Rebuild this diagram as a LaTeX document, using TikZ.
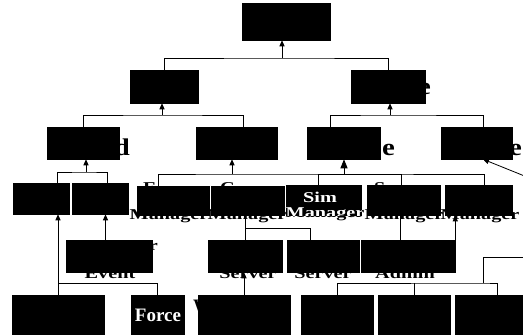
\documentclass[tikz,border=0pt]{standalone}
\usepackage{fontspec}
\setmainfont{Liberation Serif}
\usepackage{graphicx}
\usetikzlibrary{arrows.meta}
\newcommand{\sxt}[1]{\scalebox{1.35}[1]{#1}}
\newcommand{\sxb}[1]{\scalebox{1.2}[1]{#1}}
\newcommand{\mybox}[5]{\node[box, minimum width={(#4-#2)*1pt}, minimum height={(#5-#3)*1pt}] (#1) at ({(#2+#4)/2},{(#3+#5)/2}) {};}
\tikzset{
  box/.style={draw=black, fill=black, inner sep=0pt, line width=0.5pt},
  link/.style={line width=0.8pt, black},
  arr/.style={link, -{Triangle[length=6pt,width=5pt]}},
  bigarr/.style={link, -{Triangle[length=9pt,width=7pt]}},
  tfour/.style={inner sep=0pt, anchor=base, font=\bfseries\fontsize{15}{16}\selectfont},
  tthree/.style={inner sep=0pt, font=\bfseries\fontsize{24}{26}\selectfont},
  tsix/.style={inner sep=0pt, anchor=base, font=\bfseries\fontsize{19}{20}\selectfont},
}
\begin{document}
\begin{tikzpicture}[x=1pt, y=-1pt]
\useasboundingbox (0,0) rectangle (523,335);
% texts that stick out of boxes (drawn first, boxes cover part of them)
\node[tthree, anchor=base east] (tL2b) at (431,94) {\sxb{e}};
\node[tthree, anchor=base east] (tL3a) at (130,155) {\sxb{d}};
\node[tthree, anchor=base east] (tL3c) at (395,155) {\sxb{e}};
\node[tthree, anchor=base east] (tL3d) at (522,155) {\sxb{e}};
\node[tfour, anchor=base west] (tE3a) at (143,192) {\sxt{F}};
\node[tfour, anchor=base west] (tE4a) at (220,192) {\sxt{C}};
\node[tfour, anchor=base west] (tE6a) at (374,192) {\sxt{S}};
\node[tfour] (tE3b) at (169,219) {\sxt{Manager}};
\node[tfour] (tE4b) at (247,219) {\sxt{Manager}};
\node[tfour] (tE6b) at (404,219) {\sxt{Manager}};
\node[tfour] (tE7b) at (480,219) {\sxt{Manager}};
\node[tfour] (tE5a) at (320,202) {\sxt{Sim}};
\node[tfour] (tE5b) at (325,217) {\sxt{Manager}};
\node[tfour, anchor=base east] (tF1a) at (158,250) {\sxt{r}};
\node[tfour] (tF1b) at (110,278) {\sxt{Event}};
\node[tfour] (tF2) at (248,278) {\sxt{Server}};
\node[tfour] (tF3) at (323,278) {\sxt{Server}};
\node[tfour] (tF4) at (405,278) {\sxt{Admin}};
\node[tsix, anchor=base west] (tG3) at (193,312) {W};
% boxes
\mybox{root}{242}{3}{330}{40}
\mybox{L2a}{130}{70}{198}{103}
\mybox{L2b}{351}{70}{425}{103}
\mybox{L3a}{47}{127}{119}{159}
\mybox{L3b}{196}{127}{277}{159}
\mybox{L3c}{307}{127}{380}{159}
\mybox{L3d}{441}{127}{512}{159}
\mybox{E1}{13}{183}{69}{214}
\mybox{E2}{72}{183}{128}{214}
\mybox{E3}{137}{186}{209}{215}
\mybox{E4}{211}{186}{284}{215}
\mybox{E5}{286}{185}{361}{215}
\mybox{E6}{367}{185}{440}{215}
\mybox{E7}{445}{185}{512}{215}
\mybox{F1}{66}{240}{152}{272}
\mybox{F2}{208}{240}{282}{272}
\mybox{F3}{287}{240}{359}{272}
\mybox{F4}{361}{240}{455}{272}
\mybox{G1}{12}{295}{104}{337}
\mybox{G2}{131}{295}{184}{337}
\mybox{G3}{198}{295}{290}{337}
\mybox{G4}{301}{295}{373}{337}
\mybox{G5}{378}{295}{450}{337}
\mybox{G6}{455}{295}{526}{337}
% white texts inside boxes
\begin{scope}
\clip (E5.south west) rectangle (E5.north east);
\node[tfour, text=white] (wE5a) at (320,202) {\sxt{Sim}};
\node[tfour, text=white] (wE5b) at (325,217) {\sxt{Manager}};
\end{scope}
\node[tsix, text=white] (wG2) at (158,321) {Force};
% junctions
\coordinate (j0) at (282,58);
\coordinate (j1) at (162,115);
\coordinate (j2) at (390,115);
\coordinate (j3) at (86,172);
\coordinate (j4a) at (232,174);
\coordinate (j4b) at (344,174);
\coordinate (j5) at (58,283);
\coordinate (j6) at (245,228);
\coordinate (j7) at (483,283);
\coordinate (offr) at (527,177);
\coordinate (offr2) at (527,257);
% connectors
\draw[link] (L2a.north) |- (j0) -| (L2b.north);
\draw[arr] (j0) -- (j0 |- root.south);
\draw[link] (L3a.north) |- (j1) -| ([xshift=6.5pt]L3b.north);
\draw[arr] (j1) -- (j1 |- L2a.south);
\draw[link] ([xshift=-13.5pt]L3c.north) |- (j2) -| ([xshift=6.5pt]L3d.north);
\draw[arr] (j2) -- (j2 |- L2b.south);
\draw[link] ([xshift=16pt]E1.north) |- (j3) -| ([xshift=7pt]E2.north);
\draw[arr] (j3) -- (j3 |- L3a.south);
\draw[link] ([xshift=-15pt]E3.north) |- (j4a) -- (j4b) -| ([xshift=5.5pt]E7.north);
\draw[link] ([xshift=-5.5pt]E5.north) |- (j4b);
\draw[link] ([xshift=-2.5pt]E6.north) |- (j4b);
\draw[arr] (j4a) -- (j4a |- L3b.south);
\draw[bigarr] (j4b) -- (j4b |- L3c.south);
\draw[arr] (offr) -- ([xshift=6.5pt]L3d.south);
\draw[arr] (G1.north) -- (G1.north |- E1.south);
\draw[link] (G2.north) |- (j5);
\draw[arr] ([xshift=-3.5pt]F1.north) -- ([xshift=-3.5pt]F1.north |- E2.south);
\draw[link] (F2.north |- E4.south) -- (F2.north);
\draw[link] (j6) -| ([xshift=-13pt]F3.north);
\draw[arr] (G3.north) -- (G3.north |- F2.south);
\draw[link] ([xshift=-3.5pt]E6.south) -- ([xshift=-3.5pt]E6.south |- F4.north);
\draw[arr] (F4.north east) -- (F4.north east |- E7.south);
\draw[link] (G4.north) |- (j7) -| ([xshift=7pt]G6.north);
\draw[link] (G5.north) -- (G5.north |- j7);
\draw[link] (j7) |- (offr2);
\end{tikzpicture}
\end{document}
